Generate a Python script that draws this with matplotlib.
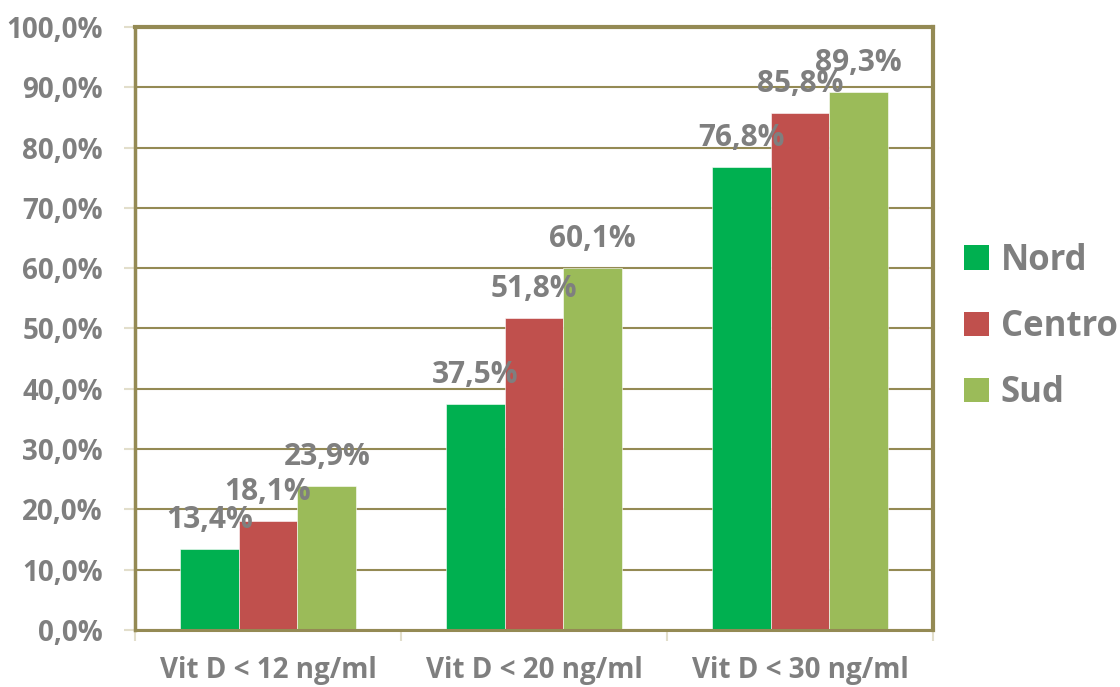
import matplotlib
matplotlib.use("Agg")
import matplotlib.pyplot as plt
import numpy as np
from matplotlib.patches import Patch
from matplotlib.ticker import FuncFormatter, MultipleLocator

categories = ["Vit D < 12 ng/ml", "Vit D < 20 ng/ml", "Vit D < 30 ng/ml"]
series_names = ["Nord", "Centro", "Sud"]
nord = [13.4, 37.5, 76.8]
centro = [18.1, 51.8, 85.8]
sud = [23.9, 60.1, 89.3]
colors = ["#00B050", "#C0504D", "#9BBB59"]

OLIVE = "#948A54"
TEXT = "#7F7F7F"
plt.rcParams["font.family"] = ["Open Sans", "DejaVu Sans"]
plt.rcParams["font.weight"] = "bold"

fig = plt.figure(figsize=(11.2, 6.87), dpi=100)
ax = fig.add_axes([0.1205, 0.083, 0.7125, 0.8777])

x = np.arange(len(categories))
width = 0.221
for k, (vals, name, col) in enumerate(zip([nord, centro, sud], series_names, colors)):
    pos = x + (k - 1) * width
    ax.bar(pos, vals, width, color=col, edgecolor="white", linewidth=0.4, zorder=2)
    for px, v in zip(pos, vals):
        ax.annotate(f"{v:.1f}%".replace(".", ","), (px, v), xytext=(0, 15),
                    textcoords="offset points", ha="center", va="baseline",
                    fontsize=21.5, fontweight="bold", color=TEXT, zorder=5)

ax.set_xlim(-0.5, 2.5)
ax.set_ylim(0, 100)
ax.yaxis.set_major_locator(MultipleLocator(10))
ax.yaxis.set_major_formatter(FuncFormatter(lambda v, _: f"{v:.1f}%".replace(".", ",")))
ax.grid(axis="y", color=OLIVE, linewidth=1.5, zorder=1)
ax.set_axisbelow(True)

ax.set_xticks(x)
ax.set_xticklabels(categories)
ax.set_xticks([-0.5, 0.5, 1.5, 2.5], minor=True)
ax.tick_params(axis="x", which="major", length=0, pad=19, labelsize=20, labelcolor=TEXT)
ax.tick_params(axis="x", which="minor", length=8, width=1.5, color="#E2DECB", direction="out")
ax.tick_params(axis="y", length=8, width=1.5, color="#E2DECB", pad=15, labelsize=20, labelcolor=TEXT)
for lbl in ax.get_xticklabels() + ax.get_yticklabels():
    lbl.set_fontweight("bold")

for side, lw in (("top", 3), ("right", 3), ("left", 2.5), ("bottom", 2.2)):
    ax.spines[side].set_color(OLIVE)
    ax.spines[side].set_linewidth(lw)

handles = [Patch(facecolor=c, edgecolor="none") for c in colors]
leg = fig.legend(handles, series_names, loc="center left", bbox_to_anchor=(0.861, 0.524),
                 frameon=False, fontsize=25, handlelength=0.7, handleheight=0.7,
                 handletextpad=0.35, labelspacing=0.87, borderpad=0, borderaxespad=0)
for t in leg.get_texts():
    t.set_color(TEXT)
    t.set_fontweight("bold")

fig.savefig("out.png", dpi=100)
